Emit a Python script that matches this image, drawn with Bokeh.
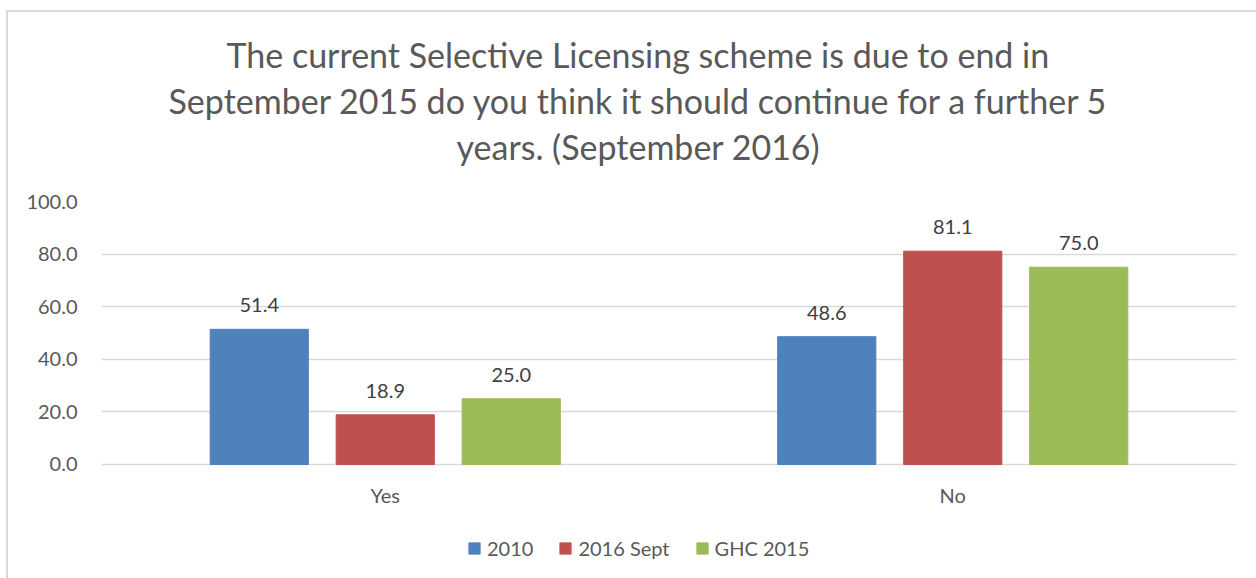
from bokeh.plotting import figure
from bokeh.models import (FactorRange, Range1d, ColumnDataSource, Legend, LegendItem,
                          FixedTicker, Title, NumeralTickFormatter, InlineStyleSheet)
from bokeh.transform import dodge
from bokeh.core.properties import value
from bokeh.embed import file_html
from bokeh.resources import INLINE

categories = ["Yes", "No"]
series = ["2010", "2016 Sept", "GHC 2015"]
vals_2010 = [51.4, 48.6]
vals_2016 = [18.9, 81.1]
vals_ghc = [25.0, 75.0]
colors = ["#4F81BD", "#C0504D", "#9BBB59"]
y_ticks = [0, 20, 40, 60, 80, 100]
title_lines = [
    "The current Selective Licensing scheme is due to end in",
    "September 2015 do you think it should continue for a further 5",
    "years. (September 2016)",
]
# horizontal offsets that centre each title line on the whole chart (not the plot area)
title_offsets = [125, 67, 355]

FONT = "Lato"
source = ColumnDataSource(dict(
    cat=categories,
    zero=[0] * len(categories),
    v0=vals_2010, v1=vals_2016, v2=vals_ghc,
    l0=["%.1f" % v for v in vals_2010],
    l1=["%.1f" % v for v in vals_2016],
    l2=["%.1f" % v for v in vals_ghc],
))

border_css = InlineStyleSheet(css="""
:host { position: relative; }
:host::after { content: ''; position: absolute; left: 6px; top: 10px; right: 0; bottom: 0;
  border-top: 2px solid #D9D9D9; border-left: 2px solid #D9D9D9; pointer-events: none; }
""")

# the frame extends below zero to leave room for category labels and the legend
p = figure(x_range=FactorRange(*categories, range_padding=0),
           y_range=Range1d(-43.35, 100), x_axis_location=None,
           frame_width=1135, frame_height=377, output_backend="svg", toolbar_location=None,
           min_border_left=101, min_border_right=20, min_border_top=201, min_border_bottom=0,
           stylesheets=[border_css])
p.title.visible = False
p.outline_line_color = None
p.background_fill_color = "white"
p.border_fill_color = "white"

offsets = [-0.222, 0.0, 0.222]
renderers = []
for i, (s, c, off) in enumerate(zip(series, colors, offsets)):
    r = p.vbar(x=dodge("cat", off, range=p.x_range), top="v%d" % i, width=0.173,
               source=source, fill_color=c, line_color=c)
    renderers.append(r)
    p.text(x=dodge("cat", off, range=p.x_range), y="v%d" % i, text="l%d" % i, source=source,
           text_align="center", text_baseline="alphabetic", y_offset=-24,
           text_font=value(FONT), text_font_size="20px", text_color="#404040")

# category labels under the zero line
p.text(x="cat", y="zero", text="cat", source=source, text_align="center",
       text_baseline="middle", y_offset=31, text_font=value(FONT), text_font_size="20px",
       text_color="#595959")

# y axis
p.yaxis.ticker = FixedTicker(ticks=y_ticks)
p.yaxis.formatter = NumeralTickFormatter(format="0.0")
p.yaxis.axis_line_color = None
p.yaxis.major_tick_line_color = None
p.yaxis.minor_tick_line_color = None
p.yaxis.major_label_text_font = FONT
p.yaxis.major_label_text_font_size = "20px"
p.yaxis.major_label_text_color = "#595959"
p.yaxis.major_label_standoff = 18

p.xgrid.grid_line_color = None
p.ygrid.ticker = FixedTicker(ticks=y_ticks)
p.ygrid.grid_line_color = "#D9D9D9"
p.ygrid.grid_line_width = 1.5

# spacer between the plot area and the title (first added is closest to the plot)
p.add_layout(Title(text=" ", text_font_size="2px", standoff=29), "above")
for line, off in reversed(list(zip(title_lines, title_offsets))):
    p.add_layout(Title(text=line, align="left", offset=off, text_font=FONT,
                       text_font_size="34px", text_font_style="normal",
                       text_color="#595959", standoff=3), "above")

legend = Legend(items=[LegendItem(label=s, renderers=[r]) for s, r in zip(series, renderers)],
                orientation="horizontal", location=(366, 18),
                label_text_font=FONT, label_text_font_size="20px", label_text_color="#595959",
                glyph_width=14, glyph_height=14, label_standoff=6, spacing=25,
                border_line_color=None, background_fill_alpha=0, margin=0, padding=4)
p.add_layout(legend, "center")

open("out.html", "w").write(file_html(p, INLINE))
